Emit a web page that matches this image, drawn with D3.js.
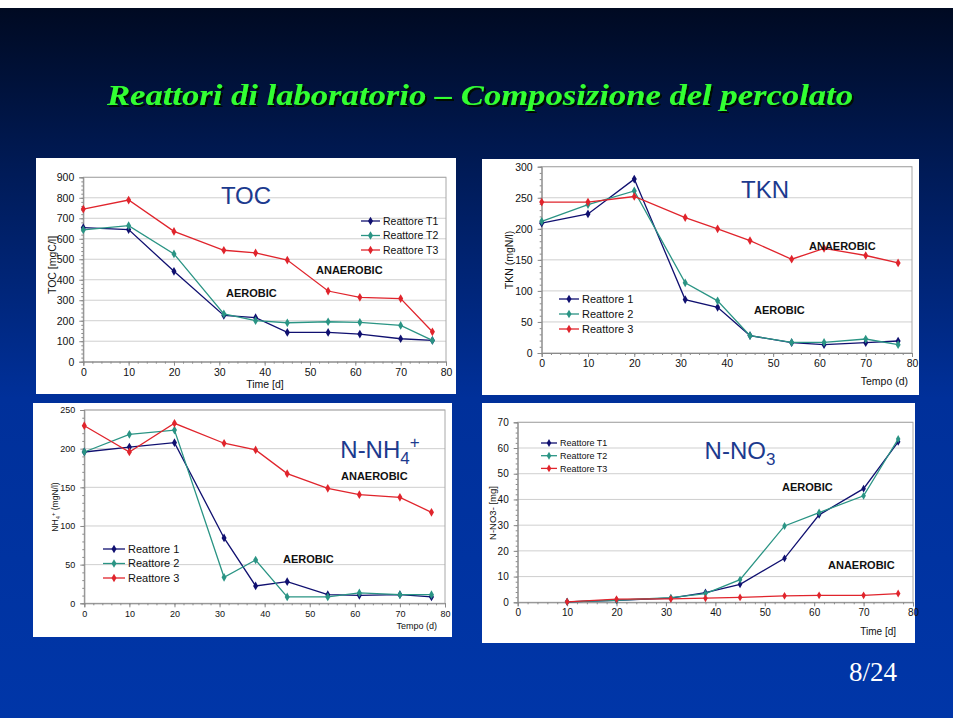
<!DOCTYPE html>
<html><head><meta charset="utf-8">
<script src="https://cdn.jsdelivr.net/npm/d3@7"></script>
<style>html,body{margin:0;padding:0;background:#fff;}svg{display:block;}</style>
</head><body>
<script>
// ---------- DATA ----------
const days = [0, 10, 20, 31, 38, 45, 54, 61, 70, 77];
const tocT1 = [654, 645, 441, 226, 215, 143, 143, 135, 112, 104];
const tocT2 = [643, 664, 526, 233, 200, 190, 195, 192, 177, 104];
const tocT3 = [745, 789, 636, 544, 531, 496, 345, 314, 308, 146];
const tknR1 = [209, 224, 280, 86, 73.5, 28, 16.6, 13.4, 16.6, 19.3];
const tknR2 = [212, 239, 261, 113, 84, 28, 17, 17, 22.5, 13.4];
const tknR3 = [243, 243, 252, 218, 200, 181, 151, 168.5, 157, 145];
const nh4R1 = [195.7, 202, 207.8, 84.5, 22.4, 28, 11.2, 10.3, 11.2, 8.2];
const nh4R2 = [195.7, 218.5, 224, 33.6, 56, 8.2, 8.2, 13.4, 11.2, 11.2];
const nh4R3 = [229.7, 195.7, 232.8, 207, 198.3, 167.7, 148.7, 140.5, 137, 117.7];
const no3Days = [10, 20, 31, 38, 45, 54, 61, 70, 77];
const no3T1 = [0.2, 0.8, 1.6, 3.8, 7.0, 17.1, 34, 44.2, 62.4];
const no3T2 = [0.2, 0.8, 1.8, 3.4, 8.8, 29.7, 34.9, 41.4, 63.5];
const no3T3 = [0.2, 1.2, 1.3, 1.6, 1.9, 2.5, 2.7, 2.7, 3.4];
const xTicks = [0, 10, 20, 30, 40, 50, 60, 70, 80];
const legendT = ["Reattore T1", "Reattore T2", "Reattore T3"];
const legendR = ["Reattore 1", "Reattore 2", "Reattore 3"];
const seriesColors = ["#101070", "#2a9484", "#e0242c"];

// ---------- DRAWING ----------
const W = 960, H = 723;
const svg = d3.select("body").append("svg").attr("width", W).attr("height", H);
const defs = svg.append("defs");
const grad = defs.append("linearGradient").attr("id", "bg").attr("x1", 0).attr("y1", 0).attr("x2", 0).attr("y2", 1);
grad.append("stop").attr("offset", "0%").attr("stop-color", "#000a22");
grad.append("stop").attr("offset", "22%").attr("stop-color", "#001a55");
grad.append("stop").attr("offset", "55%").attr("stop-color", "#00309a");
grad.append("stop").attr("offset", "100%").attr("stop-color", "#0036a8");
const shadow = defs.append("filter").attr("id", "shadow").attr("x", "-5%").attr("y", "-20%").attr("width", "110%").attr("height", "140%");
shadow.append("feDropShadow").attr("dx", 2).attr("dy", 2).attr("stdDeviation", 0.6).attr("flood-color", "#000800").attr("flood-opacity", 1);
svg.append("rect").attr("width", W).attr("height", H).attr("fill", "#ffffff");
svg.append("rect").attr("x", 0).attr("y", 8).attr("width", 953).attr("height", 710).attr("fill", "url(#bg)");

// Title
const titleText = "Reattori di laboratorio \u2013 Composizione del percolato";
svg.append("text").attr("x", 480).attr("y", 105).attr("text-anchor", "middle")
  .attr("font-family", "'Liberation Serif','Times New Roman',serif")
  .attr("font-style", "italic").attr("font-weight", "bold").attr("font-size", 30)
  .attr("textLength", 746).attr("lengthAdjust", "spacingAndGlyphs")
  .attr("fill", "#33ff33").attr("filter", "url(#shadow)").text(titleText);

// Page number
svg.append("text").attr("x", 873).attr("y", 681).attr("text-anchor", "middle")
  .attr("font-family", "'Liberation Serif','Times New Roman',serif").attr("font-size", 27)
  .attr("fill", "#ffffff").text("8/24");

function drawChart(c) {
  const g = svg.append("g").attr("font-family", "'Liberation Sans',Arial,sans-serif");
  g.append("rect").attr("x", c.panel[0]).attr("y", c.panel[1]).attr("width", c.panel[2]).attr("height", c.panel[3]).attr("fill", "#fff");
  const x = d3.scaleLinear().domain([0, 80]).range([c.plot.l, c.plot.r]);
  const y = d3.scaleLinear().domain([0, c.yMax]).range([c.plot.b, c.plot.t]);
  const yTicks = d3.range(0, c.yMax + 0.001, c.yStep);
  g.append("g").selectAll("line").data(yTicks.filter(v => v > 0)).join("line")
    .attr("x1", c.plot.l).attr("x2", c.plot.r).attr("y1", d => y(d)).attr("y2", d => y(d))
    .attr("stroke", "#cfcfcf").attr("stroke-width", 1);
  g.append("rect").attr("x", c.plot.l).attr("y", c.plot.t).attr("width", c.plot.r - c.plot.l).attr("height", c.plot.b - c.plot.t)
    .attr("fill", "none").attr("stroke", "#a8a8a8").attr("stroke-width", 1);
  const xAxis = d3.axisBottom(x).tickValues(xTicks).tickSize(4).tickPadding(3).tickFormat(d3.format("d"));
  const xa = g.append("g").attr("transform", `translate(0,${c.plot.b})`).call(xAxis);
  xa.select(".domain").attr("stroke", "#8a8a8a");
  xa.selectAll(".tick line").attr("stroke", "#8a8a8a");
  xa.selectAll("text").attr("font-size", c.fs).attr("fill", "#111").attr("font-family", "'Liberation Sans',Arial,sans-serif");
  const xMinor = d3.axisBottom(x).tickValues(d3.range(0, 81, 2)).tickSize(2).tickFormat("");
  const xm = g.append("g").attr("transform", `translate(0,${c.plot.b})`).call(xMinor);
  xm.select(".domain").remove(); xm.selectAll(".tick line").attr("stroke", "#8a8a8a");
  const yAxis = d3.axisLeft(y).tickValues(yTicks).tickSize(4).tickPadding(5).tickFormat(d3.format("d"));
  const ya = g.append("g").attr("transform", `translate(${c.plot.l},0)`).call(yAxis);
  ya.select(".domain").attr("stroke", "#8a8a8a");
  ya.selectAll(".tick line").attr("stroke", "#8a8a8a");
  ya.selectAll("text").attr("font-size", c.fs).attr("fill", "#111").attr("font-family", "'Liberation Sans',Arial,sans-serif");
  const yMinor = d3.axisLeft(y).tickValues(d3.range(0, c.yMax + 0.001, c.yStep / 5)).tickSize(2).tickFormat("");
  const ym = g.append("g").attr("transform", `translate(${c.plot.l},0)`).call(yMinor);
  ym.select(".domain").remove(); ym.selectAll(".tick line").attr("stroke", "#8a8a8a");

  const line = d3.line().x(d => x(d[0])).y(d => y(d[1]));
  const diamond = d3.symbol().type(d3.symbolDiamond).size(c.msize);
  c.series.forEach((s, i) => {
    const pts = c.xs.map((d, j) => [d, s[j]]);
    g.append("path").datum(pts).attr("d", line).attr("fill", "none").attr("stroke", seriesColors[i]).attr("stroke-width", 1.3);
    g.append("g").selectAll("path").data(pts).join("path")
      .attr("transform", d => `translate(${x(d[0])},${y(d[1])})`).attr("d", diamond).attr("fill", seriesColors[i]);
  });
  c.legend.labels.forEach((lab, i) => {
    const ly = c.legend.y + i * c.legend.dy;
    g.append("line").attr("x1", c.legend.x1).attr("x2", c.legend.x2).attr("y1", ly).attr("y2", ly).attr("stroke", seriesColors[i]).attr("stroke-width", 1.3);
    g.append("path").attr("transform", `translate(${(c.legend.x1 + c.legend.x2) / 2},${ly})`).attr("d", diamond).attr("fill", seriesColors[i]);
    g.append("text").attr("x", c.legend.x2 + 3).attr("y", ly).attr("dy", "0.35em").attr("font-size", c.legend.fs).attr("fill", "#111").text(lab);
  });
  c.notes.forEach(n => {
    g.append("text").attr("x", n[1]).attr("y", n[2]).attr("dy", "0.35em").attr("font-size", 11).attr("font-weight", "bold").attr("fill", "#111").text(n[0]);
  });
  const t = g.append("text").attr("x", c.title.x).attr("y", c.title.y).attr("font-size", 24).attr("fill", "#1c3a8e").attr("text-anchor", "middle");
  t.append("tspan").text(c.title.main);
  if (c.title.sub) t.append("tspan").attr("font-size", 17).attr("dy", 6).text(c.title.sub);
  if (c.title.sup) t.append("tspan").attr("font-size", 17).attr("dy", -16).text(c.title.sup);
  const yl = g.append("text").attr("transform", `translate(${c.ylab.x},${c.ylab.y}) rotate(-90)`).attr("text-anchor", "middle")
    .attr("dy", "0.35em").attr("font-size", c.ylab.fs).attr("fill", "#111");
  c.ylab.parts.forEach(p => {
    const ts = yl.append("tspan").text(p[0]);
    if (p[1] === "sub") ts.attr("font-size", c.ylab.fs * 0.7).attr("dy", 2);
    if (p[1] === "sup") ts.attr("font-size", c.ylab.fs * 0.7).attr("dy", -5);
    if (p[1] === "back") ts.attr("dy", 3);
  });
  g.append("text").attr("x", c.xlab.x).attr("y", c.xlab.y).attr("dy", "0.35em").attr("text-anchor", c.xlab.anchor)
    .attr("font-size", c.xlab.fs).attr("fill", "#111").text(c.xlab.text);
}

drawChart({
  panel: [36, 158, 420, 236], plot: { l: 83.3, r: 446, t: 177.3, b: 361.7 }, yMax: 900, yStep: 100, fs: 10.5, msize: 22,
  xs: days, series: [tocT1, tocT2, tocT3],
  legend: { labels: legendT, x1: 361, x2: 380, y: 221, dy: 14.5, fs: 10.5 },
  notes: [["ANAEROBIC", 316, 270], ["AEROBIC", 226, 293]],
  title: { main: "TOC", x: 246, y: 204 },
  ylab: { x: 52, y: 265, fs: 10.5, parts: [["TOC [mgC/l]"]] },
  xlab: { text: "Time [d]", x: 265, y: 384, anchor: "middle", fs: 10.5 }
});
drawChart({
  panel: [482, 159, 437, 236], plot: { l: 541.7, r: 912, t: 166.7, b: 353 }, yMax: 300, yStep: 50, fs: 10.5, msize: 22,
  xs: days, series: [tknR1, tknR2, tknR3],
  legend: { labels: legendR, x1: 559, x2: 579, y: 299, dy: 15, fs: 11 },
  notes: [["ANAEROBIC", 809, 246], ["AEROBIC", 754, 310]],
  title: { main: "TKN", x: 765, y: 198 },
  ylab: { x: 509, y: 260, fs: 10.5, parts: [["TKN (mgN/l)"]] },
  xlab: { text: "Tempo (d)", x: 908, y: 381, anchor: "end", fs: 10.5 }
});
drawChart({
  panel: [33, 403, 419, 234], plot: { l: 84.3, r: 445, t: 410, b: 603.3 }, yMax: 250, yStep: 50, fs: 9, msize: 22,
  xs: days, series: [nh4R1, nh4R2, nh4R3],
  legend: { labels: legendR, x1: 103, x2: 125, y: 549, dy: 14.5, fs: 11 },
  notes: [["ANAEROBIC", 341, 476], ["AEROBIC", 283, 559]],
  title: { main: "N-NH", sub: "4", sup: "+", x: 380, y: 458 },
  ylab: { x: 55, y: 507, fs: 8.5, parts: [["NH"], ["4", "sub"], ["+", "sup"], [" (mgN/l)", "back"]] },
  xlab: { text: "Tempo (d)", x: 437, y: 626, anchor: "end", fs: 9 }
});
drawChart({
  panel: [482, 403, 433, 240], plot: { l: 517.7, r: 913, t: 422.3, b: 602.3 }, yMax: 70, yStep: 10, fs: 10, msize: 18,
  xs: no3Days, series: [no3T1, no3T2, no3T3],
  legend: { labels: legendT, x1: 541, x2: 557, y: 443, dy: 12.7, fs: 9 },
  notes: [["AEROBIC", 782, 487], ["ANAEROBIC", 828, 565]],
  title: { main: "N-NO", sub: "3", x: 740, y: 459 },
  ylab: { x: 493, y: 513, fs: 9.5, parts: [["N-NO3-   [mg]"]] },
  xlab: { text: "Time [d]", x: 896, y: 631, anchor: "end", fs: 10 }
});
</script>
</body></html>
